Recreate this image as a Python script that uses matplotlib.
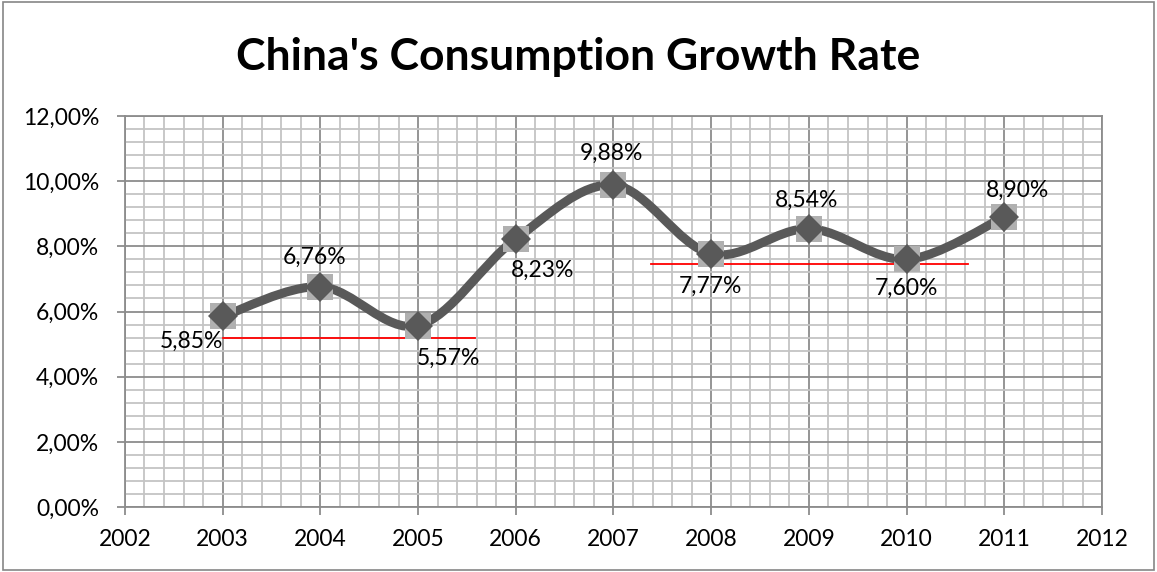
import matplotlib
matplotlib.use('Agg')
import matplotlib.pyplot as plt
import matplotlib.ticker as mticker
from matplotlib.path import Path
from matplotlib.patches import PathPatch, Rectangle
import numpy as np

years  = [2003, 2004, 2005, 2006, 2007, 2008, 2009, 2010, 2011]
rates  = [5.85, 6.76, 5.57, 8.23, 9.88, 7.77, 8.54, 7.60, 8.90]
labels = ['5,85%', '6,76%', '5,57%', '8,23%', '9,88%', '7,77%', '8,54%', '7,60%', '8,90%']
# label offsets in pixels (dx, dy)
offsets = [(-31, -25), (-6, 29), (30, -33), (27, -31), (-2, 32), (-1, -33), (-2, 28), (0, -29), (13, 27)]

# red reference lines: (x start, x end, level)
red_lines = [(2003.0, 2005.58, 5.18), (2007.38, 2010.63, 7.45)]

plt.rcParams['font.family'] = ['Lato', 'DejaVu Sans']

fig = plt.figure(figsize=(11.57, 5.72), dpi=100)
fig.patches.append(Rectangle((0.003, 0.004), 0.994, 0.992, transform=fig.transFigure,
                             fill=False, edgecolor='#868686', linewidth=1.2))
ax = fig.add_axes([0.108, 0.1136, 0.8445, 0.6836])

ax.set_xlim(2002, 2012)
ax.set_ylim(0, 12)
ax.xaxis.set_major_locator(mticker.MultipleLocator(1))
ax.xaxis.set_minor_locator(mticker.MultipleLocator(0.2))
ax.yaxis.set_major_locator(mticker.MultipleLocator(2))
ax.yaxis.set_minor_locator(mticker.MultipleLocator(0.4))
ax.yaxis.set_major_formatter(mticker.FuncFormatter(lambda v, p: ('%.2f%%' % v).replace('.', ',')))
ax.xaxis.set_major_formatter(mticker.FuncFormatter(lambda v, p: '%d' % v))

ax.grid(which='major', color='#8c8c8c', linewidth=1.3)
ax.grid(which='minor', color='#c4c4c4', linewidth=1.3)
ax.set_axisbelow(True)
for s in ax.spines.values():
    s.set_color('#8c8c8c')
    s.set_linewidth(1.3)
ax.tick_params(which='major', length=6, color='#8c8c8c', width=1.3, labelsize=16.5)
ax.tick_params(axis='x', pad=10)
ax.tick_params(axis='y', pad=12.5)
ax.tick_params(which='minor', length=0)

for x0, x1, lvl in red_lines:
    ax.plot([x0, x1], [lvl, lvl], color='red', linewidth=1.3, zorder=2)

# smoothed line (Catmull-Rom style bezier like Excel)
pts = np.column_stack([years, rates]).astype(float)
verts = [tuple(pts[0])]
codes = [Path.MOVETO]
n = len(pts)
for i in range(n - 1):
    p0 = pts[max(i - 1, 0)]
    p1 = pts[i]
    p2 = pts[i + 1]
    p3 = pts[min(i + 2, n - 1)]
    c1 = p1 + (p2 - p0) / 6.0
    c2 = p2 - (p3 - p1) / 6.0
    verts += [tuple(c1), tuple(c2), tuple(p2)]
    codes += [Path.CURVE4] * 3
ax.add_patch(PathPatch(Path(verts, codes), facecolor='none', edgecolor='#595959',
                       linewidth=6.5, capstyle='round', joinstyle='round', zorder=3))

ax.plot(years, rates, linestyle='none', marker='s', markersize=19,
        color='#b0b0b0', markeredgewidth=0, zorder=4)
ax.plot(years, rates, linestyle='none', marker='D', markersize=15,
        color='#595959', markeredgewidth=0, zorder=5)

for x, y, t, (dx, dy) in zip(years, rates, labels, offsets):
    ax.annotate(t, (x, y), xytext=(dx * 0.72, dy * 0.72), textcoords='offset points',
                ha='center', va='center', fontsize=16.5, zorder=6)

fig.text(0.5, 0.9, "China's Consumption Growth Rate", ha='center', va='center',
         fontsize=32, fontweight='bold')

fig.savefig('out.png', dpi=100)
